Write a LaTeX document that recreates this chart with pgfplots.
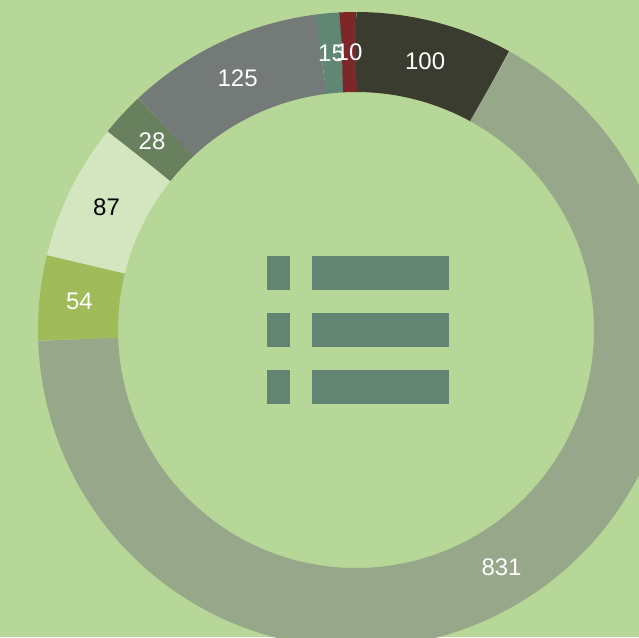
\documentclass[border=0pt]{standalone}
\usepackage{pgfplots}
\pgfplotsset{compat=1.18}
\usepackage{fontspec}
\setmainfont{Liberation Sans}
\definecolor{bg}{HTML}{B7D798}
\definecolor{cA}{HTML}{3A3C30}
\definecolor{cB}{HTML}{97A789}
\definecolor{cC}{HTML}{A0BB5A}
\definecolor{cD}{HTML}{D4E6C0}
\definecolor{cE}{HTML}{68805E}
\definecolor{cF}{HTML}{737A78}
\definecolor{cG}{HTML}{5F8773}
\definecolor{cH}{HTML}{7D2828}
\definecolor{icon}{HTML}{628473}
% values clockwise from 12 o'clock
\pgfmathsetmacro\tot{100+831+54+87+28+125+15+10}
\def\cx{356}\def\cy{330}\def\rm{278}
\newcommand\seg[2]{% value, colour
  \pgfmathsetmacro\aEnd{\aStart-#1/\tot*360}%
  \edef\tmp{\noexpand\addplot[draw=#2, line width=80pt, domain=\aEnd:\aStart, samples=120]
    ({\cx+\rm*cos(x)},{\cy-\rm*sin(x)});}%
  \tmp
  \global\let\aStart\aEnd
}
\newcommand\lab[3]{% value, textcolour, mid angle
  \pgfmathsetmacro\lx{\cx+\rm*cos(#3)}%
  \pgfmathsetmacro\ly{\cy-\rm*sin(#3)}%
  \edef\tmp{\noexpand\node[text=#2, font=\noexpand\fontsize{24}{28}\noexpand\selectfont] at (axis cs:\lx,\ly) {#1};}%
  \tmp
}
\begin{document}
\begin{tikzpicture}
\fill[bg] (0,0) rectangle (639pt,637pt);
\begin{axis}[at={(0,0)}, anchor=south west, x=1pt, y=1pt, scale only axis,
  xmin=0, xmax=639, ymin=0, ymax=637, y dir=reverse, hide axis, clip=true]
\gdef\aStart{90}
\seg{100}{cA}
\seg{831}{cB}
\seg{54}{cC}
\seg{87}{cD}
\seg{28}{cE}
\seg{125}{cF}
\seg{15}{cG}
\seg{10}{cH}
% labels at mid angles
\lab{100}{white}{75.6}
\lab{831}{white}{-58.43}
\lab{54}{white}{174.1}
\lab{87}{black}{153.8}
\lab{28}{white}{137.2}
\lab{125}{white}{115.2}
\lab{15}{white}{95.04}
\lab{10}{white}{91.44}
% icon
\fill[icon] (axis cs:267,256) rectangle (axis cs:290,290);
\fill[icon] (axis cs:312,256) rectangle (axis cs:449,290);
\fill[icon] (axis cs:267,313) rectangle (axis cs:290,347);
\fill[icon] (axis cs:312,313) rectangle (axis cs:449,347);
\fill[icon] (axis cs:267,370) rectangle (axis cs:290,404);
\fill[icon] (axis cs:312,370) rectangle (axis cs:449,404);
\end{axis}
\end{tikzpicture}
\end{document}
